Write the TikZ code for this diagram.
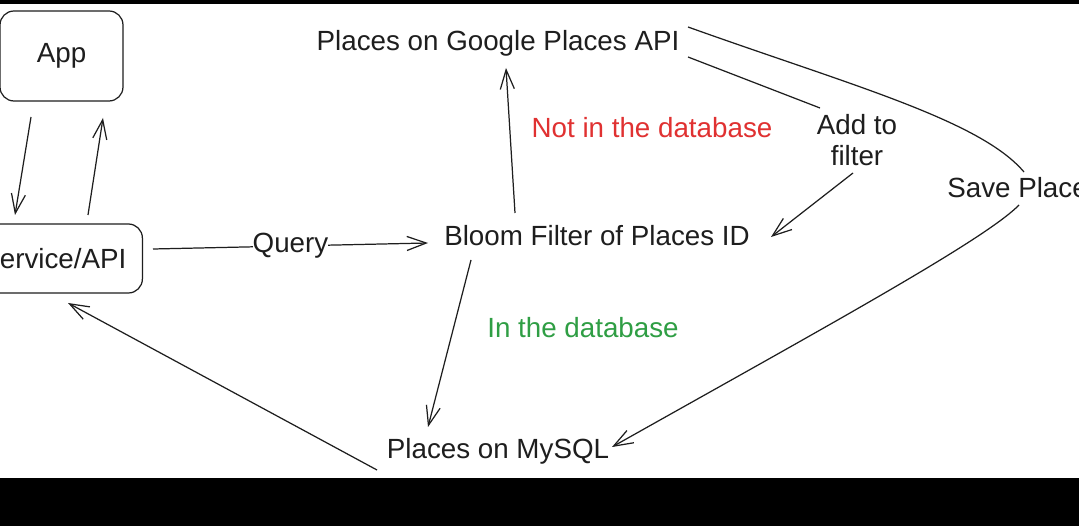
\documentclass[tikz,border=0pt]{standalone}
\usepackage{fontspec}
\setmainfont{Liberation Sans}
\usetikzlibrary{arrows.meta}
\definecolor{ink}{HTML}{1E1E1E}
\definecolor{redtxt}{HTML}{E03131}
\definecolor{greentxt}{HTML}{2F9E44}
\tikzstyle{txt}=[text=ink,inner sep=0pt,font=\fontsize{15.8}{17.6}\selectfont]
\tikzstyle{block}=[txt,draw=ink,line width=.7pt,rounded corners=.28cm]
\tikzstyle{link}=[draw=ink,line width=.7pt]

\begin{document}
\begin{tikzpicture}[x=.02cm, y=-.02cm, >={Straight Barb[length=11pt,width=8pt]}]
  \useasboundingbox (0,0) rectangle (1079,526);
  \fill[black] (0,0) rectangle (1079,4);
  \fill[black] (0,478) rectangle (1079,526);
  \fill[white] (0,4) rectangle (1079,478);

  \begin{scope}
  \clip (0,4) rectangle (1079,478);

  \node[block, minimum width=2.46cm, minimum height=1.8cm] (App) at (61.5,56) {App};
  \node[block, anchor=east, inner xsep=.32cm, minimum height=1.38cm] (Service) at (143,258.5) {Service/API};
  \node[txt] (Google) at (498,43) {Places on Google Places API};
  \node[txt] (Bloom) at (597,236) {Bloom Filter of Places ID};
  \node[txt] (MySQL) at (498,451) {Places on MySQL};
  \node[txt, align=center] (Add) at (857,140) {Add to\\filter};
  \node[txt, anchor=west] (Save) at (947,188) {Save Place};
  \node[txt, text=redtxt] (notdb) at (652,128) {Not in the database};
  \node[txt, text=greentxt] (indb) at (583,328) {In the database};

  \draw[link,->] ([shift={(-30.5,61)}]App.center) -- ([shift={(-128,-43.5)}]Service.east);
  \draw[link,->] ([shift={(-55,-43.5)}]Service.east) -- ([shift={(41.5,62)}]App.center);
  \draw[link,->] ([shift={(10,-9.5)}]Service.east) -- node[txt, fill=white] {Query} ([shift={(-169,7)}]Bloom.center);
  \draw[link,->] ([shift={(-82,-23)}]Bloom.center) -- ([shift={(8,25)}]Google.center);
  \draw[link,->] ([shift={(-126,24)}]Bloom.center) -- ([shift={(-70,-24)}]MySQL.center);
  \draw[link] ([shift={(190,14)}]Google.center) -- ([shift={(-37,-32)}]Add.center);
  \draw[link,->] ([shift={(-4,33)}]Add.center) -- ([shift={(174,1)}]Bloom.center);
  \draw[link] ([shift={(190,-16)}]Google.center) .. controls (850,85) and (980,120) .. ([shift={(77,-16)}]Save.west);
  \draw[link,->] ([shift={(72,17)}]Save.west) .. controls (985,240) and (820,330) .. ([shift={(114,-4)}]MySQL.center);
  \draw[link,->] ([shift={(-121,19)}]MySQL.center) -- ([shift={(-75,44.5)}]Service.east);
  \end{scope}
\end{tikzpicture}
\end{document}
